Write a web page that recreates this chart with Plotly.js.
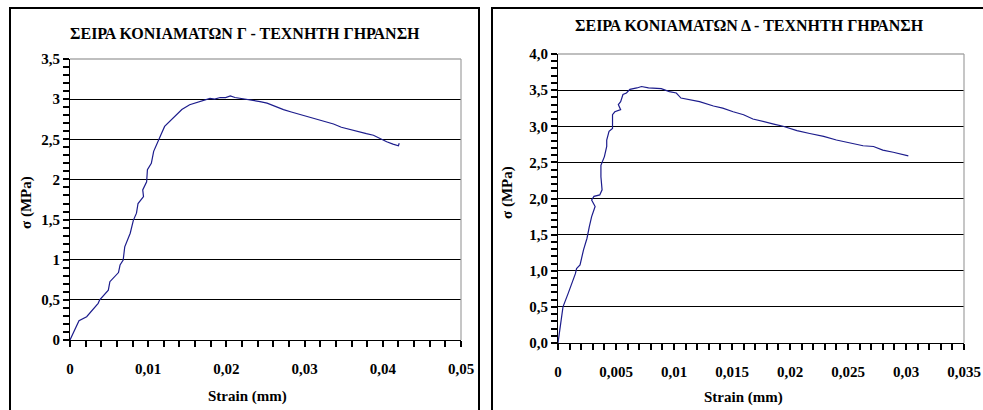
<!DOCTYPE html>
<html>
<head>
<meta charset="utf-8">
<script src="https://cdn.plot.ly/plotly-3.0.1.min.js"></script>
<style>
html,body{margin:0;padding:0;background:#fff;width:983px;height:410px;overflow:hidden;position:relative;}
.frame{position:absolute;border:2px solid #000;box-sizing:border-box;}
#frameL{left:9px;top:7px;width:471px;height:420px;}
#frameR{left:491px;top:7px;width:520px;height:420px;}
.plot{position:absolute;top:0;height:410px;}
#chartL{left:0;width:490px;}
#chartR{left:490px;width:493px;}
</style>
</head>
<body>
<div class="frame" id="frameL"></div>
<div class="frame" id="frameR"></div>
<div class="plot" id="chartL"></div>
<div class="plot" id="chartR"></div>
<script>
// Left chart: ΣΕΙΡΑ ΚΟΝΙΑΜΑΤΩΝ Γ
const strainG = [0, 0.00115, 0.00213, 0.0036, 0.0038, 0.0049, 0.0051, 0.0062, 0.0064, 0.0068, 0.0070, 0.0077, 0.0081, 0.0085, 0.0087, 0.0094, 0.0093, 0.0098, 0.0099, 0.0104, 0.0107, 0.0112, 0.0116, 0.0121, 0.0125, 0.0132, 0.0143, 0.0153, 0.0166, 0.0172, 0.0179, 0.0185, 0.0192, 0.0199, 0.0205, 0.0211, 0.0217, 0.0225, 0.0234, 0.0243, 0.0252, 0.0262, 0.0273, 0.0283, 0.0294, 0.0304, 0.0315, 0.0326, 0.0337, 0.0347, 0.0358, 0.0368, 0.0379, 0.0388, 0.0396, 0.0405, 0.0413, 0.0420, 0.0421];
const stressG = [0, 0.24, 0.29, 0.457, 0.50, 0.62, 0.726, 0.84, 0.934, 0.996, 1.16, 1.33, 1.49, 1.58, 1.70, 1.785, 1.87, 1.97, 2.12, 2.20, 2.35, 2.45, 2.55, 2.66, 2.70, 2.76, 2.87, 2.93, 2.97, 2.99, 3.01, 3.00, 3.02, 3.02, 3.04, 3.02, 3.01, 3.00, 2.99, 2.97, 2.95, 2.91, 2.87, 2.84, 2.81, 2.78, 2.75, 2.72, 2.69, 2.65, 2.62, 2.60, 2.57, 2.55, 2.51, 2.47, 2.44, 2.42, 2.45];
// Right chart: ΣΕΙΡΑ ΚΟΝΙΑΜΑΤΩΝ Δ
const strainD = [0, 0.0001, 0.0002, 0.00043, 0.00086, 0.0012, 0.0015, 0.0016, 0.0019, 0.0022, 0.0025, 0.0027, 0.0029, 0.0032, 0.0029, 0.0031, 0.0036, 0.0038, 0.0037, 0.0037, 0.0040, 0.0042, 0.0042, 0.0044, 0.0047, 0.0047, 0.0049, 0.0054, 0.0052, 0.0054, 0.0056, 0.0059, 0.0062, 0.0068, 0.0072, 0.0078, 0.0089, 0.0096, 0.0102, 0.0106, 0.0114, 0.0122, 0.0134, 0.0142, 0.0151, 0.0160, 0.0168, 0.0177, 0.0186, 0.0194, 0.0206, 0.0217, 0.0229, 0.0240, 0.0252, 0.0263, 0.0272, 0.0280, 0.0289, 0.0298, 0.0302];
const stressD = [0, 0.13, 0.27, 0.50, 0.68, 0.82, 0.96, 1.03, 1.08, 1.29, 1.45, 1.61, 1.75, 1.89, 1.98, 2.03, 2.05, 2.12, 2.30, 2.46, 2.58, 2.72, 2.81, 2.93, 2.97, 3.16, 3.20, 3.23, 3.30, 3.34, 3.44, 3.46, 3.51, 3.53, 3.55, 3.53, 3.52, 3.48, 3.46, 3.39, 3.37, 3.34, 3.28, 3.25, 3.20, 3.16, 3.10, 3.07, 3.03, 3.00, 2.94, 2.90, 2.86, 2.81, 2.77, 2.73, 2.72, 2.67, 2.64, 2.60, 2.59];

const titleG = 'ΣΕΙΡΑ ΚΟΝΙΑΜΑΤΩΝ Γ - ΤΕΧΝΗΤΗ ΓΗΡΑΝΣΗ';
const titleD = 'ΣΕΙΡΑ ΚΟΝΙΑΜΑΤΩΝ Δ - ΤΕΧΝΗΤΗ ΓΗΡΑΝΣΗ';
const xTitle = 'Strain (mm)';
const yTitle = 'σ (MPa)';

const FAM = 'Liberation Serif';
const tickF = {family: FAM, size: 15, color: '#000', weight: 'bold'};
const axF = {family: FAM, size: 15, color: '#000', weight: 'bold'};
const titF = {family: FAM, size: 16, color: '#000', weight: 'bold'};
const lineStyle = {color: '#1c1c8c', width: 1.2};
const TC = 'rgb(0,0,0)';

function makeLayout(w, m, xr, xd, xm, yr, yd, ym, yfmt, ann) {
  return {
    width: w, height: 410,
    margin: m,
    paper_bgcolor: 'rgba(0,0,0,0)', plot_bgcolor: 'rgba(0,0,0,0)',
    separators: ', ',
    showlegend: false,
    font: {family: FAM, size: 15, color: '#000'},
    xaxis: {range: xr, dtick: xd, ticks: 'outside', ticklen: 6, tickwidth: 1.5, tickcolor: TC,
      minor: {dtick: xm, ticks: 'outside', ticklen: 6, tickwidth: 1.5, tickcolor: TC},
      showline: true, linecolor: '#000', linewidth: 1, zeroline: false, showgrid: false,
      tickfont: tickF, ticklabelstandoff: 9},
    yaxis: {range: yr, dtick: yd, tickformat: yfmt, ticks: 'outside', ticklen: 6, tickwidth: 1.5, tickcolor: TC,
      minor: {dtick: ym, ticks: 'outside', ticklen: 6, tickwidth: 1.5, tickcolor: TC},
      showline: true, linecolor: '#000', linewidth: 1, zeroline: false,
      showgrid: true, gridcolor: '#000', gridwidth: 1, tickfont: tickF},
    shapes: [
      {type: 'line', xref: 'paper', yref: 'paper', x0: 0, x1: 1, y0: 1, y1: 1, line: {color: '#808080', width: 1.2}, layer: 'above'},
      {type: 'line', xref: 'paper', yref: 'paper', x0: 1, x1: 1, y0: 0, y1: 1, line: {color: '#a0a0a0', width: 1.2}, layer: 'above'}
    ],
    annotations: [
      {text: ann.title, xref: 'paper', yref: 'paper', x: ann.tx, y: ann.ty, showarrow: false, xanchor: 'center', yanchor: 'middle', font: titF},
      {text: xTitle, xref: 'paper', yref: 'paper', x: ann.xx, y: ann.xy, showarrow: false, xanchor: 'center', yanchor: 'middle', font: axF},
      {text: yTitle, xref: 'paper', yref: 'paper', x: ann.yx, y: ann.yy, showarrow: false, xanchor: 'center', yanchor: 'middle', textangle: -90, font: axF}
    ]
  };
}

const layoutL = makeLayout(490, {l: 70, r: 29, t: 59, b: 70}, [0, 0.05], 0.01, 0.002, [0, 3.5], 0.5, 0.1, '',
  {title: titleG, tx: 0.4476, ty: 1.089, xx: 0.4552, xy: -0.2028, yx: -0.1125, yy: 0.4875});
const layoutR = makeLayout(493, {l: 68, r: 19, t: 54, b: 67}, [0, 0.035], 0.005, 0.001, [0, 4], 0.5, 0.1, '.1f',
  {title: titleD, tx: 0.4729, ty: 1.0969, xx: 0.4557, xy: -0.1903, yx: -0.1232, yy: 0.5225});

const cfg = {displayModeBar: false};
Plotly.newPlot('chartL', [{x: strainG, y: stressG, type: 'scatter', mode: 'lines', line: lineStyle, hoverinfo: 'skip'}], layoutL, cfg);
Plotly.newPlot('chartR', [{x: strainD, y: stressD, type: 'scatter', mode: 'lines', line: lineStyle, hoverinfo: 'skip'}], layoutR, cfg);
</script>
</body>
</html>
